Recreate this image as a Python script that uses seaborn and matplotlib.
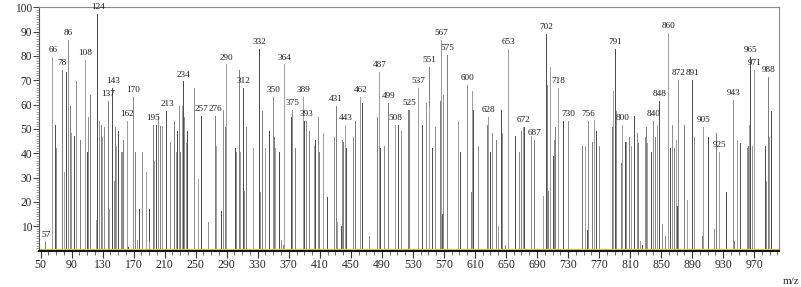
import numpy as np
import pandas as pd
import matplotlib
matplotlib.use("Agg")
import matplotlib.pyplot as plt
from matplotlib.ticker import MultipleLocator
import seaborn as sns

# 质谱峰 (m/z, 相对强度)
mz = [57, 66, 69, 71, 78, 81, 84, 86, 88, 90, 94, 96, 102, 108, 110, 112, 115, 122,
      124, 126, 128, 130, 132, 133, 137, 139, 143, 145, 146, 148, 151, 155, 157, 162,
      164, 170, 172, 175, 178, 181, 182, 187, 190, 191, 195, 197, 199, 202, 204, 207,
      213, 218, 223, 225, 227, 229, 231, 233, 234, 235, 236, 238, 240, 248, 249, 253,
      257, 267, 276, 277, 283, 286, 288, 290, 301, 303, 307, 308, 312, 313, 316, 325,
      332, 334, 336, 340, 345, 350, 351, 353, 358, 360, 363, 364, 373, 375, 379, 389,
      390, 393, 397, 403, 405, 408, 410, 415, 420, 429, 431, 433, 438, 439, 441, 443,
      444, 453, 456, 462, 465, 474, 485, 487, 488, 493, 499, 508, 511, 515, 525, 537,
      542, 547, 551, 552, 555, 559, 565, 567, 568, 570, 575, 589, 591, 600, 605, 607,
      608, 615, 626, 628, 630, 633, 638, 640, 644, 646, 650, 653, 662, 668, 670, 672,
      674, 683, 687, 699, 702, 704, 705, 707, 711, 713, 714, 718, 724, 730, 749, 753,
      755, 756, 761, 764, 767, 770, 787, 788, 791, 793, 799, 800, 804, 806, 809, 812,
      816, 819, 821, 824, 826, 830, 831, 832, 838, 840, 843, 845, 848, 852, 856, 860,
      862, 865, 867, 870, 871, 872, 880, 884, 891, 893, 904, 905, 911, 919, 921, 925,
      934, 943, 945, 949, 952, 961, 963, 964, 965, 968, 970, 971, 985, 986, 988, 990,
      992]
intensity = [3.6, 79.6, 51.5, 42.3, 74.2, 32.1, 73.5, 86.4, 59.3, 48.4, 47.0, 69.5, 45.3, 78.3, 40.5, 54.8, 64.0, 12.4,
             97.3, 53.2, 51.5, 46.7, 44.3, 50.7, 61.3, 17.2, 66.7, 28.7, 50.7, 43.0, 49.3, 40.3, 45.3, 53.2,
             1.6, 63.3, 40.7, 4.5, 17.2, 40.7, 8.4, 32.1, 17.2, 4.0, 51.5, 37.0, 51.5, 55.2, 51.0, 51.0,
             57.2, 44.7, 53.2, 40.7, 49.0, 59.3, 40.7, 59.3, 69.5, 55.0, 55.0, 44.3, 49.0, 67.0, 54.8, 29.4,
             55.2, 11.7, 55.2, 43.0, 16.2, 57.8, 50.7, 76.5, 42.3, 40.7, 74.2, 40.7, 67.0, 24.6, 50.7, 42.3,
             83.0, 24.0, 57.2, 42.3, 49.0, 63.3, 46.7, 42.3, 40.7, 4.5, 2.2, 76.5, 54.8, 57.8, 42.3, 63.3,
             53.2, 53.2, 49.0, 43.0, 45.3, 54.8, 40.7, 48.4, 21.9, 46.7, 59.3, 11.7, 10.0, 45.3, 44.7, 51.5,
             42.3, 46.7, 53.2, 63.3, 60.6, 5.9, 54.8, 73.3, 42.3, 43.0, 60.6, 51.5, 51.5, 49.0, 57.8, 67.0,
             51.5, 60.6, 75.6, 59.3, 42.3, 50.7, 61.6, 86.4, 15.0, 64.0, 80.3, 53.2, 40.7, 68.1, 24.0, 65.6,
             57.8, 43.0, 51.5, 54.8, 40.7, 48.4, 45.3, 10.0, 57.8, 48.4, 2.2, 82.8, 47.0, 40.7, 49.0, 50.7,
             50.7, 47.0, 45.3, 22.6, 89.1, 68.1, 24.6, 75.6, 38.9, 45.3, 50.7, 67.0, 53.2, 53.2, 43.0, 43.0,
             8.4, 53.2, 44.7, 53.8, 49.0, 43.0, 50.7, 65.6, 83.0, 57.2, 35.8, 51.5, 44.7, 44.7, 46.7, 43.0,
             55.2, 48.4, 44.3, 4.0, 2.2, 46.7, 50.7, 44.3, 40.7, 53.2, 46.7, 51.5, 61.6, 10.8, 5.9, 89.5,
             42.3, 51.5, 42.3, 45.3, 18.5, 70.2, 51.5, 20.8, 70.2, 46.7, 5.9, 50.7, 46.7, 9.0, 48.4, 40.7,
             24.0, 62.0, 4.0, 45.3, 44.3, 42.3, 43.0, 51.5, 79.6, 43.0, 23.3, 74.2, 43.0, 28.7, 71.5, 46.7,
             57.2]

# 标注的峰
labeled = [57, 66, 78, 86, 108, 124, 137, 143, 162, 170, 195, 213, 234, 257, 276, 290, 312,
           332, 350, 364, 375, 389, 393, 431, 443, 462, 487, 499, 508, 525, 537, 551, 567,
           575, 600, 628, 653, 672, 687, 702, 718, 730, 756, 791, 800, 840, 848, 860, 872,
           891, 905, 925, 943, 965, 971, 988]

x_ticks = list(range(50, 1000, 40))
y_ticks = list(range(10, 110, 10))

df = pd.DataFrame({"mz": mz, "intensity": intensity})
df["shade"] = ["s%d" % (i % 4) for i in range(len(df))]

sns.set_style("ticks")
plt.rcParams["font.family"] = ["Liberation Serif", "DejaVu Serif"]

fig = plt.figure(figsize=(8.01, 2.87), dpi=100)
ax = fig.add_axes([39 / 801, 1 - 250.5 / 287, 740 / 801, 243.2 / 287])

pal = {"s0": "#808080", "s1": "#a0a0a0", "s2": "#4e4e4e", "s3": "#909090"}
sns.barplot(data=df, x="mz", y="intensity", hue="shade", palette=pal,
            native_scale=True, dodge=False, width=1.3, linewidth=0,
            legend=False, ax=ax)

ax.axhline(0.5, color="#d8cc50", lw=1.0, zorder=1)

lookup = dict(zip(mz, intensity))
for m in labeled:
    ax.text(m, lookup[m] + 1.2, str(m), ha="center", va="bottom",
            fontsize=6.6, color="#1a1a1a")

ax.set_xlim(48, 1002)
ax.set_ylim(0, 100)
ax.set_xticks(x_ticks)
ax.set_xticklabels([str(v) for v in x_ticks])
ax.xaxis.set_minor_locator(MultipleLocator(10))
ax.set_yticks(y_ticks)
ax.set_yticklabels([str(v) for v in y_ticks])
ax.yaxis.set_minor_locator(MultipleLocator(1))
ax.tick_params(axis="x", which="major", length=5, width=0.8, pad=1, labelsize=8.5, color="#333333")
ax.tick_params(axis="x", which="minor", length=3, width=0.6, color="#555555")
ax.tick_params(axis="y", which="major", length=4, width=0.8, pad=1, labelsize=8.3, color="#444444")
ax.tick_params(axis="y", which="minor", length=2, width=0.5, color="#777777")
ax.set_xlabel("")
ax.set_ylabel("")

for side in ["top", "right"]:
    ax.spines[side].set_visible(True)
    ax.spines[side].set_color("#8a8a8a")
    ax.spines[side].set_linewidth(0.8)
ax.spines["left"].set_color("#555555")
ax.spines["left"].set_linewidth(0.8)
ax.spines["bottom"].set_color("#111111")
ax.spines["bottom"].set_linewidth(1.5)

fig.text(799 / 801, 1 - 281 / 287, "m/z", ha="right", va="center", fontsize=8)

plt.savefig("out.png", dpi=100)
plt.close()
